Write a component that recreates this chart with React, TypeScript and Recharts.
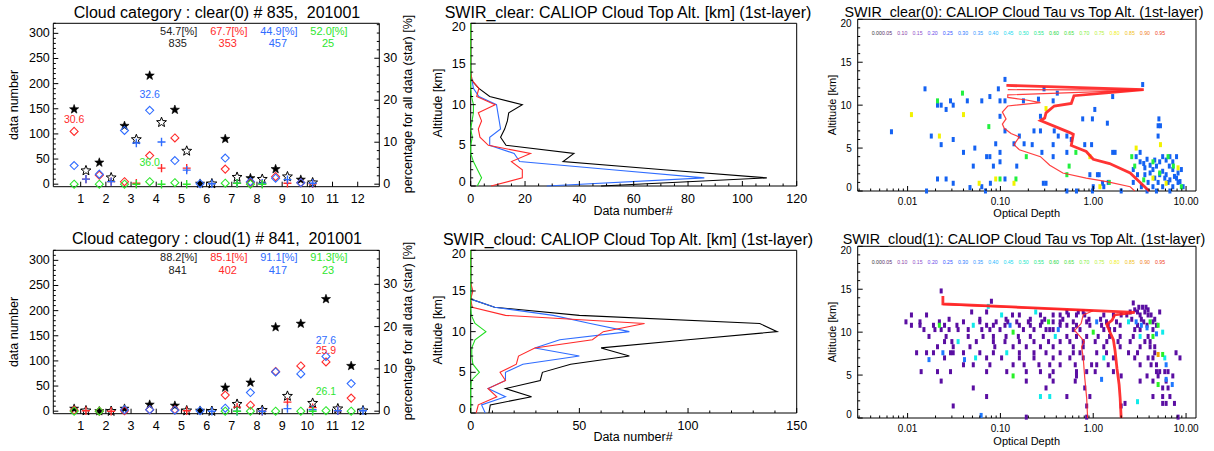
import React from "react";
import { ScatterChart, Scatter, XAxis, YAxis } from "recharts";

const FONT = '"Liberation Sans", Arial, Helvetica, sans-serif';

// ---------- left: counts per cloud category ----------
const categories = [1, 2, 3, 4, 5, 6, 7, 8, 9, 10, 11, 12];

const clearAllStar = [149, 43, 116, 216, 148, 1, 90, 12, 30, 9, null, null];
const clearSubStar = [27, 13, 89, 123, 66, 1, 14, 10, 15, 3, null, null];
const clearRedDiamond = [105, 18, 5, 57, 92, null, 30, 3, 15, 3, null, null];
const clearRedPlus = [10, 5, 2, 32, 32, null, 2, 1, 2, 1, null, null];
const clearBlueDiamond = [37, 20, 107, 147, 47, 1, 52, 5, 12, 3, null, null];
const clearBluePlus = [10, 5, 82, 84, 28, 1, 2, 2, 9, 2, null, null];
const clearGreenDiamond = [0, 0, 0, 5, 3, null, 2, 0, null, null, null, null];
const clearGreenPlus = [null, null, 0, 0, 0, null, 2, 0, null, null, null, null];
const clearHeader = [["54.7[%]", "835"], ["67.7[%]", "353"], ["44.9[%]", "457"], ["52.0[%]", "25"]];
const clearPeaks = [
  { color: "red", cat: 1, text: "30.6" },
  { color: "blue", cat: 4, text: "32.6" },
  { color: "green", cat: 4, text: "36.0" },
];

const cloudAllStar = [5, 0, 5, 13, 11, 1, 47, 57, 167, 174, 223, 90];
const cloudSubStar = [1, 0, null, null, 1, 0, 14, 2, 30, 16, 5, 1];
const cloudRedDiamond = [2, 0, 1, 3, 3, null, 32, 12, 79, 90, 98, 26];
const cloudRedPlus = [1, 0, null, null, 1, null, 8, 0, 18, 7, 1, null];
const cloudBlueDiamond = [null, null, 3, 3, 2, 1, 6, 37, 78, 74, 109, 55];
const cloudBluePlus = [null, null, null, null, null, 0, 0, 0, 5, 3, 1, 1];
const cloudGreenDiamond = [0, 0, null, null, null, null, 0, 0, 0, 0, 1, 0];
const cloudGreenPlus = [null, null, null, null, null, null, 0, null, null, 0, null, null];
const cloudHeader = [["88.2[%]", "841"], ["85.1[%]", "402"], ["91.1[%]", "417"], ["91.3[%]", "23"]];
const cloudPeaks = [
  { color: "blue", cat: 11, text: "27.6" },
  { color: "red", cat: 11, text: "25.9" },
  { color: "green", cat: 11, text: "26.1" },
];

// ---------- middle: cloud top altitude histograms ----------
const altitudes = [0, 1, 2, 3, 4, 5, 6, 7, 8, 9, 10, 11, 12, 13, 14, 15, 16, 17, 18, 19, 20];
const clearBlack = [48, 109, 71, 34, 38, 13, 11, 12.5, 13.5, 14, 19, 7, 3, 0.3, 0, 0, 0, 0, 0, 0, 0];
const clearBlue = [28, 86, 52, 18, 16, 7, 7, 11, 10.5, 10, 9.5, 3, 1, 0.5, 0, 0, 0, 0, 0, 0, 0];
const clearRed = [7.5, 19, 19, 15, 22, 6.5, 3.4, 2.8, 4, 2.8, 9, 2.2, 3, 0.5, 0, 0, 0, 0, 0, 0, 0];
const clearGreen = [2.4, 4, 2.5, 1, 0, 0, 0.6, 0, 0.5, 1, 1, 0.3, 0, 0, 0, 0, 0, 0, 0, 0, 0];
const cloudBlack = [8.4, 9, 28, 16, 32, 33, 46, 73, 60, 100, 141, 133, 50, 11, 0, 0, 0, 0, 0, 0, 0];
const cloudBlue = [6.7, 5, 16, 8, 16, 16, 24, 50, 29.5, 41, 73, 55, 38, 11, 0, 0, 0, 0, 0, 0, 0];
const cloudRed = [2.5, 3.5, 12, 8, 16, 13.5, 21, 22, 29.5, 56, 61, 80, 16, 0.7, 0, 1, 0, 0, 0, 0, 0];
const cloudGreen = [0, 0, 0, 0, 0.3, 4, 1, 0.5, 0.5, 2, 7, 2, 0.3, 0, 0, 0, 0, 0, 0, 0, 0];

// ---------- right: optical depth vs top altitude ----------
// [tau, altitude km]
const clearBlueCells: [number, number][] = [
  [0.112, 13.0], [0.0154, 11.9], [0.095, 11.9], [0.295, 11.9], [3.41, 12.4], [0.41, 11.4], [1.62, 11.0],
  [0.077, 11.0], [0.029, 10.5], [0.044, 10.5], [0.063, 10.5], [0.099, 10.5], [0.112, 10.5], [0.177, 10.5],
  [0.257, 10.7], [0.37, 10.5], [0.023, 10.0], [0.021, 10.0], [0.031, 10.0], [0.026, 9.5], [1.04, 9.5],
  [0.099, 8.7], [0.27, 8.7], [0.77, 8.4], [0.98, 8.4], [5.1, 8.4], [5.0, 7.6], [5.3, 7.6], [1.42, 7.9],
  [0.0067, 6.9], [0.018, 6.4], [0.031, 6.0], [0.112, 7.0], [0.16, 6.4], [0.23, 7.0], [0.27, 7.0], [0.38, 7.0],
  [0.42, 6.4], [0.52, 6.4], [0.58, 6.0], [5.0, 6.4], [0.023, 5.4], [0.053, 5.0], [0.089, 5.5], [0.14, 5.5],
  [0.18, 5.5], [0.22, 5.4], [0.37, 5.4], [0.81, 5.4], [0.96, 5.4], [0.04, 4.5], [0.071, 4.0], [0.077, 4.0],
  [0.099, 4.5], [0.28, 4.5], [0.37, 4.0], [0.52, 4.5], [1.62, 4.5], [1.72, 4.5], [3.2, 4.5], [0.051, 2.9],
  [0.084, 2.9], [0.099, 3.4], [0.15, 2.9], [0.021, 1.4], [0.026, 1.4], [0.031, 0.9], [0.047, 0.4],
  [0.063, 0.5], [0.069, 0.0], [0.078, 0.9], [0.112, 1.4], [0.29, 0.9], [0.31, 0.9], [0.92, 1.9], [1.11, 1.9],
  [1.16, 1.9], [1.26, 0.9], [1.0, 0.5], [0.66, 0.0], [0.52, 0.0], [2.0, 0.0], [0.98, 0.0], [0.016, 0.0],
  [1.45, 1.0], [1.3, 0.5],
  [2.9, 4.0], [3.2, 3.4], [3.5, 3.2], [3.8, 3.7], [4.1, 3.0], [4.4, 2.5], [4.8, 2.9], [5.2, 3.4], [5.6, 4.0],
  [6.1, 3.6], [6.7, 4.0], [7.2, 3.4], [7.9, 4.0], [6.6, 2.9], [7.2, 2.5], [8.2, 2.1], [8.9, 2.5], [2.7, 2.5],
  [3.0, 1.9], [3.6, 1.9], [4.1, 2.1], [4.6, 1.5], [5.2, 1.9], [5.9, 1.5], [6.7, 1.3], [7.5, 1.7], [8.6, 1.1],
  [2.7, 1.0], [3.3, 0.5], [3.9, 1.0], [4.4, 0.5], [5.0, 1.0], [5.6, 0.5], [6.4, 1.0], [7.2, 0.5], [8.2, 1.0],
  [9.3, 0.5], [3.8, 0.0], [4.8, 0.0], [6.7, 0.0], [3.6, 2.7], [4.6, 3.6], [5.6, 2.3], [6.1, 1.9], [7.9, 1.5],
];
const clearGreenCells: [number, number][] = [
  [0.039, 11.4], [0.021, 10.5], [0.075, 7.5], [0.19, 4.0], [0.65, 4.5], [2.6, 4.0], [0.55, 2.9], [0.099, 1.4],
  [0.147, 1.4], [0.52, 1.9], [1.49, 1.0], [2.8, 2.9], [3.5, 1.3], [4.4, 3.4], [5.2, 2.1], [6.4, 4.0],
  [8.9, 0.5], [7.3, 2.9],
];
const clearYellowCells: [number, number][] = [
  [0.31, 9.6], [0.011, 8.9], [0.04, 8.9], [0.022, 6.4], [2.9, 5.0], [5.3, 5.4], [0.92, 4.0], [0.059, 0.9],
  [0.089, 1.4], [0.14, 0.9], [1.18, 0.5], [4.4, 1.5], [6.1, 0.9], [8.2, 2.7],
];
const clearThick: [number, number][] = [
  [0.116, 12.3], [3.5, 11.8], [0.62, 11.1], [0.58, 10.2], [0.38, 9.9], [0.31, 9.1], [0.3, 8.5], [0.27, 8.2],
  [0.56, 6.8], [0.61, 6.6], [0.58, 5.3], [0.84, 4.6], [1.0, 3.7], [1.5, 3.2], [2.5, 2.1], [4.0, 0],
];
const clearThin: [number, number][] = [
  [0.12, 11.8], [3.4, 11.75], [0.12, 11.2], [0.12, 10.9], [0.19, 10.6], [0.27, 10.3], [0.12, 9.9],
  [0.105, 9.2], [0.115, 8.4], [0.105, 7.8], [0.11, 7.3], [0.13, 6.7], [0.16, 6.3], [0.14, 5.4], [0.16, 4.8],
  [0.27, 4.0], [0.34, 3.0], [0.47, 2.1], [0.84, 1.5], [1.4, 1.1], [2.5, 0.5], [2.8, 0],
];

// [altitude km, taus]
const cloudPurpleRows: [number, number[]][] = [
  [14.8, [0.023]],
  [13.6, [0.08]],
  [13.4, [2.7]],
  [12.9, [3.1, 3.4, 3.7]],
  [12.6, [2.8, 3.9]],
  [12.35, [0.049, 0.071, 0.52, 0.69, 0.78, 2.5, 3.0, 3.6, 5.2]],
  [12.0, [0.011, 0.016, 0.135, 0.16, 0.27, 0.37, 0.44, 0.54, 0.66, 0.81, 1.3, 1.65, 2.0, 2.3, 3.2, 3.9, 4.2]],
  [11.5, [0.028, 0.06, 0.115, 0.21, 0.3, 0.47, 0.9, 1.2, 2.6, 3.3, 4.6]],
  [11.2, [0.0096, 0.0136, 0.022, 0.04, 0.06, 0.09, 0.12, 0.15, 0.2, 0.28, 0.37, 0.44, 0.61, 0.85, 1.39, 1.78, 3.5, 4.4]],
  [10.8, [0.011, 0.0136, 0.019, 0.025, 0.034, 0.071, 0.084, 0.112, 0.16, 0.21, 0.27, 0.44, 0.52, 0.66, 0.92, 1.23, 1.45, 1.95, 3.0, 3.8, 4.8]],
  [10.3, [0.015, 0.0197, 0.023, 0.028, 0.035, 0.045, 0.063, 0.077, 0.099, 0.177, 0.23, 0.31, 0.34, 0.37, 0.61, 0.72, 1.3, 1.5, 1.7, 2.8, 3.2, 4.4]],
  [9.5, [0.017, 0.026, 0.045, 0.065, 0.084, 0.115, 0.156, 0.21, 0.29, 0.52, 0.66, 0.85, 1.13, 1.5, 1.95, 2.7, 3.9]],
  [8.9, [0.025, 0.03, 0.055, 0.084, 0.112, 0.16, 0.23, 0.33, 0.44, 0.56, 0.78, 1.05, 1.4, 1.85, 2.5, 3.6, 4.1]],
  [8.3, [0.021, 0.031, 0.047, 0.087, 0.137, 0.19, 0.27, 0.37, 0.61, 0.78, 1.3, 1.95, 3.2, 4.1, 4.6]],
  [7.6, [0.0125, 0.016, 0.019, 0.029, 0.031, 0.04, 0.06, 0.084, 0.16, 0.23, 0.31, 0.44, 0.61, 0.72, 1.09, 1.39, 2.4, 3.0, 4.6, 7.8]],
  [7.0, [0.025, 0.071, 0.103, 0.16, 0.23, 0.37, 0.56, 0.78, 1.65, 2.8, 3.9, 4.4, 8.6]],
  [6.2, [0.04, 0.051, 0.077, 0.137, 0.18, 0.26, 0.34, 0.44, 0.64, 0.96, 1.09, 1.45, 3.2, 4.2, 4.8]],
  [5.4, [0.014, 0.021, 0.029, 0.071, 0.117, 0.19, 0.27, 0.37, 0.66, 0.85, 1.05, 1.65, 4.8, 5.2, 5.9, 6.4]],
  [4.9, [0.34, 0.66, 2.0, 3.8, 5.0, 7.2]],
  [4.3, [0.023, 0.19, 0.37, 0.64, 3.2, 4.4, 6.1]],
  [3.5, [0.051, 0.31, 0.81, 5.6, 6.4]],
  [2.5, [0.071, 0.52, 0.92, 4.4, 5.6, 6.7]],
  [1.7, [2.2, 5.6, 6.1, 7.5]],
  [1.4, [0.031, 0.85, 2.0]],
  [0.1, [0.19, 0.85, 8.2]],
];
const cloudCyanCells: [number, number][] = [
  [0.074, 13.0], [0.24, 12.35], [0.103, 12.0], [2.4, 11.2], [0.051, 10.8], [5.6, 10.0], [0.39, 9.5], [3.2, 9.5],
  [0.035, 8.9], [0.117, 7.6], [0.054, 7.0], [1.3, 7.0], [5.9, 7.0], [0.27, 2.5], [0.34, 2.5], [3.0, 1.9],
];
const cloudBlueCells: [number, number][] = [
  [1.09, 11.2], [2.9, 11.2], [0.127, 10.8], [3.3, 10.8], [0.42, 10.3], [3.8, 10.5], [4.8, 9.8], [0.024, 7.6],
  [0.017, 6.8], [0.041, 6.8], [6.1, 6.2], [1.23, 4.5], [6.1, 4.5], [7.1, 3.9], [0.062, 0.3],
];
const cloudGreenCells: [number, number][] = [
  [0.33, 11.2], [4.1, 11.2], [0.022, 10.8], [5.0, 10.8], [0.137, 10.0], [1.0, 10.0], [4.4, 9.5], [5.6, 7.4],
  [0.137, 4.9], [5.0, 3.9],
];
const cloudOrangeCells: [number, number][] = [[5.0, 7.4]];
const cloudThick: [number, number][] = [
  [0.024, 14.2], [0.024, 13.3], [2.8, 12.3], [1.7, 12.0], [1.6, 11.4], [1.4, 10.9], [1.5, 10.1], [1.65, 9.1],
  [1.72, 7.8], [1.8, 5.8], [1.9, 3.9], [1.95, 2.3], [2.0, 0],
];
const cloudThin: [number, number][] = [
  [0.024, 13.2], [1.0, 12.5], [0.78, 12.0], [0.74, 11.0], [0.63, 10.2], [0.72, 9.5], [0.8, 8.9], [0.75, 8.3],
  [0.78, 7.0], [0.81, 4.7], [0.85, 2.3], [0.87, 0],
];

const colorbarLevels = ["0.00", "0.05", "0.10", "0.15", "0.20", "0.25", "0.30", "0.35", "0.40", "0.45",
  "0.50", "0.55", "0.60", "0.65", "0.70", "0.75", "0.80", "0.85", "0.90", "0.95"];
const colorbarColors = ["#3a3a3a", "#5a3070", "#8a3fa8", "#9050c8", "#6a4ae8", "#3858ff", "#2a78ff", "#3a98ff",
  "#28b8ff", "#20d8f0", "#20e8c8", "#20e888", "#20d840", "#40e040", "#80f040", "#b8f040", "#f0f020",
  "#f0c020", "#f08020", "#f04020"];

// ---------- helpers ----------
const RED = "#ff2a2a";
const BLUE = "#2f6cff";
const GREEN = "#2ee62e";
const SERIES_COLOR: Record<string, string> = { red: RED, blue: BLUE, green: GREEN };
const LABEL_OFFSET: Record<string, number> = { red: 12.0, blue: 16.3, green: 19.8 };
const LEFT_OFF = -0.26;
const RIGHT_OFF = 0.21;

const range = (a: number, b: number, s: number) =>
  Array.from({ length: Math.floor((b - a) / s + 1e-9) + 1 }, (_, i) => +(a + i * s).toFixed(6));

type Side = "bottom" | "top" | "left" | "right";
// axes are 1px thick, the tick props land on the plot edge.
// edges: labels sitting exactly on the box corners get nudged inward (IDL style)
function tickRenderer(side: Side, majors: number[], fmt: ((v: number) => string) | null, fontSize = 12.5, gap = 12,
  edges?: [number, number]) {
  const isMajor = (v: number) => majors.some((m) => Math.abs(m - v) < 1e-6 * Math.max(1, Math.abs(m)));
  return (props: any) => {
    const x = Number(props.x);
    const y = Number(props.y);
    const v = Number(props.payload?.value);
    const major = isMajor(v);
    const len = major ? 5 : 2.5;
    const label = major && fmt ? fmt(v) : null;
    const ts = { fontSize, fontFamily: FONT, fill: "#000" };
    let nudge = 0;
    if (edges && v === edges[0]) nudge = -4;
    if (edges && v === edges[1]) nudge = 4;
    if (side === "bottom")
      return (
        <g>
          <line x1={x} y1={y} x2={x} y2={y - len} stroke="#000" />
          {label && <text x={x} y={y + gap} textAnchor="middle" dominantBaseline="central" {...ts}>{label}</text>}
        </g>
      );
    if (side === "top") return <line x1={x} y1={y} x2={x} y2={y + len} stroke="#000" />;
    if (side === "left")
      return (
        <g>
          <line x1={x} y1={y} x2={x + len} y2={y} stroke="#000" />
          {label && <text x={x - gap} y={y + nudge} textAnchor="end" dominantBaseline="central" {...ts}>{label}</text>}
        </g>
      );
    return (
      <g>
        <line x1={x} y1={y} x2={x - len} y2={y} stroke="#000" />
        {label && <text x={x + gap} y={y + nudge} textAnchor="start" dominantBaseline="central" {...ts}>{label}</text>}
      </g>
    );
  };
}

const axisCommon = {
  tickSize: 0,
  tickMargin: 0,
  tickLine: false,
  interval: 0 as const,
  axisLine: { stroke: "#000" },
};

function Label(p: { x: number; y: number; size: number; color?: string; rotate?: number; children: React.ReactNode }) {
  return (
    <div
      style={{
        position: "absolute",
        left: p.x,
        top: p.y,
        transform: `translate(-50%, -50%)${p.rotate ? ` rotate(${p.rotate}deg)` : ""}`,
        whiteSpace: "pre",
        fontFamily: FONT,
        fontSize: p.size,
        color: p.color ?? "#000",
        lineHeight: 1,
      }}
    >
      {p.children}
    </div>
  );
}

const starPath = (cx: number, cy: number, R: number, r: number) => {
  let d = "";
  for (let k = 0; k < 10; k++) {
    const a = ((-90 + k * 36) * Math.PI) / 180;
    const rad = k % 2 ? r : R;
    d += `${k ? "L" : "M"}${(cx + rad * Math.cos(a)).toFixed(2)},${(cy + rad * Math.sin(a)).toFixed(2)}`;
  }
  return d + "Z";
};
const FilledStar = (p: any) => <path d={starPath(p.cx, p.cy, 4.8, 2.0)} fill="#000" stroke="#000" strokeWidth={0.6} />;
const HollowStar = (p: any) => <path d={starPath(p.cx, p.cy, 5.2, 2.2)} fill="none" stroke="#000" strokeWidth={1} />;
const diamondShape = (color: string) => (p: any) =>
  <path d={`M${p.cx},${p.cy - 4}L${p.cx + 4},${p.cy}L${p.cx},${p.cy + 4}L${p.cx - 4},${p.cy}Z`} fill="none" stroke={color} strokeWidth={1.1} />;
const plusShape = (color: string) => (p: any) =>
  <path d={`M${p.cx - 4},${p.cy}H${p.cx + 4}M${p.cx},${p.cy - 4.2}V${p.cy + 4.2}`} stroke={color} strokeWidth={1.4} fill="none" />;
const NoDot = () => <g />;

const catPoints = (vals: (number | null)[], off: number) =>
  vals.flatMap((v, i) => (v == null ? [] : [{ x: categories[i] + off, y: v }]));

// ---------- left panel ----------
type CatData = {
  top: number;
  title: string;
  total: number;
  all: (number | null)[];
  sub: (number | null)[];
  rd: (number | null)[];
  rp: (number | null)[];
  bd: (number | null)[];
  bp: (number | null)[];
  gd: (number | null)[];
  gp: (number | null)[];
  header: string[][];
  peaks: { color: string; cat: number; text: string }[];
};

function CategoryPanel(p: CatData) {
  const yMin = -5;
  const yMax = 320;
  const pctMin = (yMin / p.total) * 100;
  const pctMax = (yMax / p.total) * 100;
  const diamonds: Record<string, (number | null)[]> = { red: p.rd, blue: p.bd, green: p.gd };
  const peakPts = p.peaks.map((pk) => ({ x: pk.cat + LEFT_OFF, y: diamonds[pk.color][pk.cat - 1] ?? 0, text: pk.text, color: pk.color }));
  const xDom: [number, number] = [-0.087, 12.857];
  return (
    <div style={{ position: "absolute", left: 0, top: p.top, width: 420, height: 225 }}>
      <ScatterChart width={420} height={225} margin={{ top: 22.3, right: 39.7, bottom: 37.3, left: 52.3 }}>
        <XAxis xAxisId="b" type="number" dataKey="x" domain={xDom} ticks={categories} height={1} {...axisCommon}
          tick={tickRenderer("bottom", categories, (v) => String(v), 12.5, 12.5)} />
        <XAxis xAxisId="t" orientation="top" type="number" dataKey="x" domain={xDom} ticks={categories} height={1}
          {...axisCommon} tick={tickRenderer("top", categories, null)} />
        <YAxis yAxisId="l" type="number" dataKey="y" domain={[yMin, yMax]} ticks={range(0, 320, 10)} width={1}
          {...axisCommon} tick={tickRenderer("left", range(0, 300, 50), (v) => String(v), 12.5, 3.5)} />
        <YAxis yAxisId="r" orientation="right" type="number" domain={[pctMin, pctMax]} allowDataOverflow
          ticks={range(0, 38, 2).filter((v) => v <= pctMax)} width={1} {...axisCommon}
          tick={tickRenderer("right", [0, 10, 20, 30], (v) => String(v), 12.5, 4)} />
        <Scatter xAxisId="b" yAxisId="l" data={catPoints(p.all, LEFT_OFF)} shape={FilledStar} isAnimationActive={false} />
        <Scatter xAxisId="b" yAxisId="l" data={catPoints(p.sub, RIGHT_OFF)} shape={HollowStar} isAnimationActive={false} />
        <Scatter xAxisId="b" yAxisId="l" data={catPoints(p.rd, LEFT_OFF)} shape={diamondShape(RED)} isAnimationActive={false} />
        <Scatter xAxisId="b" yAxisId="l" data={catPoints(p.rp, RIGHT_OFF)} shape={plusShape(RED)} isAnimationActive={false} />
        <Scatter xAxisId="b" yAxisId="l" data={catPoints(p.bd, LEFT_OFF)} shape={diamondShape(BLUE)} isAnimationActive={false} />
        <Scatter xAxisId="b" yAxisId="l" data={catPoints(p.bp, RIGHT_OFF)} shape={plusShape(BLUE)} isAnimationActive={false} />
        <Scatter xAxisId="b" yAxisId="l" data={catPoints(p.gd, LEFT_OFF)} shape={diamondShape(GREEN)} isAnimationActive={false} />
        <Scatter xAxisId="b" yAxisId="l" data={catPoints(p.gp, RIGHT_OFF)} shape={plusShape(GREEN)} isAnimationActive={false} />
        <Scatter
          xAxisId="b"
          yAxisId="l"
          data={peakPts}
          isAnimationActive={false}
          shape={(s: any) => (
            <text x={s.cx} y={s.cy - LABEL_OFFSET[s.payload.color]} textAnchor="middle" dominantBaseline="central"
              fontSize={10.5} fontFamily={FONT} fill={SERIES_COLOR[s.payload.color]}>
              {s.payload.text}
            </text>
          )}
        />
      </ScatterChart>
      <Label x={217} y={12.7} size={16}>{p.title}</Label>
      <Label x={13.5} y={105} size={12.5} rotate={-90}>data number</Label>
      <Label x={408} y={104} size={12.5} rotate={-90}>percentage for all data (star) [%]</Label>
      {p.header.map((h, i) => {
        const color = ["#222", RED, BLUE, GREEN][i];
        const cx = 178.7 + i * 50.1;
        return (
          <React.Fragment key={i}>
            <Label x={cx} y={30.7} size={11} color={color}>{h[0]}</Label>
            <Label x={cx - 1} y={43.3} size={11} color={color}>{h[1]}</Label>
          </React.Fragment>
        );
      })}
    </div>
  );
}

// ---------- middle panel ----------
const toLine = (vals: number[]) => vals.map((v, i) => ({ x: v, y: altitudes[i] }));

function AltitudePanel(p: { top: number; title: string; xMax: number; xMajor: number; xMinor: number;
  black: number[]; blue: number[]; red: number[]; green: number[] }) {
  const xTicks = range(0, p.xMax, p.xMinor);
  const xMajors = range(0, p.xMax, p.xMajor);
  const line = (vals: number[], color: string) => (
    <Scatter xAxisId="b" yAxisId="l" data={toLine(vals)} shape={NoDot} line={{ stroke: color, strokeWidth: 1.1 }}
      lineJointType="linear" fill={color} isAnimationActive={false} />
  );
  return (
    <div style={{ position: "absolute", left: 420, top: p.top, width: 420, height: 225 }}>
      <ScatterChart width={420} height={225} margin={{ top: 22.3, right: 42.3, bottom: 38, left: 49.7 }}>
        <XAxis xAxisId="b" type="number" dataKey="x" domain={[0, p.xMax]} ticks={xTicks} height={1} {...axisCommon}
          tick={tickRenderer("bottom", xMajors, (v) => String(v), 12.5, 12.5)} />
        <XAxis xAxisId="t" orientation="top" type="number" dataKey="x" domain={[0, p.xMax]} ticks={xTicks} height={1}
          {...axisCommon} tick={tickRenderer("top", xMajors, null)} />
        <YAxis yAxisId="l" type="number" dataKey="y" domain={[0, 20]} ticks={range(0, 20, 1)} width={1} {...axisCommon}
          tick={tickRenderer("left", [0, 5, 10, 15, 20], (v) => String(v), 12.5, 5, [0, 20])} />
        <YAxis yAxisId="r" orientation="right" type="number" dataKey="y" domain={[0, 20]} ticks={range(0, 20, 1)} width={1}
          {...axisCommon} tick={tickRenderer("right", [0, 5, 10, 15, 20], null)} />
        {line(p.black, "#000000")}
        {line(p.blue, BLUE)}
        {line(p.red, RED)}
        {line(p.green, "#22dd22")}
      </ScatterChart>
      <Label x={208} y={13} size={16}>{p.title}</Label>
      <Label x={18} y={103} size={12.5} rotate={-90}>Altitude [km]</Label>
      <Label x={213} y={210.7} size={12.5}>Data number#</Label>
    </div>
  );
}

// ---------- right panel ----------
const cellPts = (cells: [number, number][]) => cells.map(([tau, alt]) => ({ x: tau, y: alt }));
const rowPts = (rows: [number, number[]][]) => rows.flatMap(([alt, taus]) => taus.map((tau) => ({ x: tau, y: alt })));
const cellShape = (color: string) => (p: any) => <rect x={p.cx - 1.5} y={p.cy - 2.5} width={3} height={5} fill={color} />;

const TAU_DOMAIN: [number, number] = [0.0029, 12.8];
const tauMajors = [0.01, 0.1, 1, 10];
const tauTicks = [0.001, 0.01, 0.1, 1, 10]
  .flatMap((d) => [1, 2, 3, 4, 5, 6, 7, 8, 9].map((k) => +(k * d).toPrecision(2)))
  .filter((v) => v >= TAU_DOMAIN[0] && v <= TAU_DOMAIN[1]);

function TauPanel(p: { top: number; title: string; groups: { pts: { x: number; y: number }[]; color: string }[];
  thick: [number, number][]; thin: [number, number][] }) {
  return (
    <div style={{ position: "absolute", left: 820, top: p.top, width: 394, height: 225 }}>
      <ScatterChart width={394} height={225} margin={{ top: 18.3, right: 17, bottom: 33, left: 36.7 }}>
        <XAxis xAxisId="b" type="number" scale="log" dataKey="x" domain={TAU_DOMAIN} ticks={tauTicks} height={1}
          {...axisCommon} tick={tickRenderer("bottom", tauMajors, (v) => v.toFixed(2), 10, 10.5)} />
        <XAxis xAxisId="t" orientation="top" type="number" scale="log" dataKey="x" domain={TAU_DOMAIN} ticks={tauTicks}
          height={1} {...axisCommon} tick={tickRenderer("top", tauMajors, null)} />
        <YAxis yAxisId="l" type="number" dataKey="y" domain={[0, 20]} ticks={range(0, 20, 1)} width={1} {...axisCommon}
          tick={tickRenderer("left", [0, 5, 10, 15, 20], (v) => String(v), 10, 6, [0, 20])} />
        <YAxis yAxisId="r" orientation="right" type="number" dataKey="y" domain={[0, 20]} ticks={range(0, 20, 1)}
          width={1} {...axisCommon} tick={tickRenderer("right", [0, 5, 10, 15, 20], null)} />
        {p.groups.map((g, i) => (
          <Scatter key={i} xAxisId="b" yAxisId="l" data={g.pts} shape={cellShape(g.color)} isAnimationActive={false} />
        ))}
        <Scatter xAxisId="b" yAxisId="l" data={cellPts(p.thin)} shape={NoDot} fill="#ff2a2a"
          line={{ stroke: "#ff2a2a", strokeWidth: 1.2, strokeOpacity: 0.9 }} lineJointType="linear" isAnimationActive={false} />
        <Scatter xAxisId="b" yAxisId="l" data={cellPts(p.thick)} shape={NoDot} fill="#ff1e1e"
          line={{ stroke: "#ff1e1e", strokeWidth: 2.8, strokeOpacity: 0.9 }} lineJointType="linear" isAnimationActive={false} />
      </ScatterChart>
      <Label x={204} y={12} size={14.3}>{p.title}</Label>
      <Label x={11.7} y={105} size={11} rotate={-90}>Altitude [km]</Label>
      <Label x={206.7} y={213.3} size={11}>Optical Depth</Label>
      {colorbarLevels.map((lv, i) => (
        <div key={lv} style={{ position: "absolute", left: i === 0 ? 51.7 : i === 1 ? 62 : 77.3 + (i - 2) * 15.16,
          top: 34.3 + (p.top > 0 ? 1.3 : 0), transform: "translateY(-50%)", fontFamily: FONT, fontSize: 5.2,
          color: colorbarColors[i], lineHeight: 1, whiteSpace: "nowrap" }}>
          {lv}
        </div>
      ))}
    </div>
  );
}

export default function App() {
  return (
    <div style={{ position: "absolute", left: 0, top: 0, width: 1214, height: 451, background: "#fff", overflow: "hidden" }}>
      <CategoryPanel top={0} title="Cloud category : clear(0) # 835,  201001" total={835}
        all={clearAllStar} sub={clearSubStar} rd={clearRedDiamond} rp={clearRedPlus} bd={clearBlueDiamond}
        bp={clearBluePlus} gd={clearGreenDiamond} gp={clearGreenPlus} header={clearHeader} peaks={clearPeaks} />
      <CategoryPanel top={226.7} title="Cloud category : cloud(1) # 841,  201001" total={841}
        all={cloudAllStar} sub={cloudSubStar} rd={cloudRedDiamond} rp={cloudRedPlus} bd={cloudBlueDiamond}
        bp={cloudBluePlus} gd={cloudGreenDiamond} gp={cloudGreenPlus} header={cloudHeader} peaks={cloudPeaks} />
      <AltitudePanel top={0} title="SWIR_clear: CALIOP Cloud Top Alt. [km] (1st-layer)" xMax={120} xMajor={20} xMinor={5}
        black={clearBlack} blue={clearBlue} red={clearRed} green={clearGreen} />
      <AltitudePanel top={226.7} title="SWIR_cloud: CALIOP Cloud Top Alt. [km] (1st-layer)" xMax={150} xMajor={50} xMinor={10}
        black={cloudBlack} blue={cloudBlue} red={cloudRed} green={cloudGreen} />
      <TauPanel top={0} title="SWIR_clear(0): CALIOP Cloud Tau vs Top Alt. (1st-layer)"
        groups={[
          { pts: cellPts(clearBlueCells), color: "#1462f2" },
          { pts: cellPts(clearGreenCells), color: "#22f040" },
          { pts: cellPts(clearYellowCells), color: "#f2f200" },
        ]}
        thick={clearThick} thin={clearThin} />
      <TauPanel top={227.4} title="SWIR_cloud(1): CALIOP Cloud Tau vs Top Alt. (1st-layer)"
        groups={[
          { pts: rowPts(cloudPurpleRows), color: "#5a0ea2" },
          { pts: cellPts(cloudCyanCells), color: "#10eaea" },
          { pts: cellPts(cloudBlueCells), color: "#1e78ff" },
          { pts: cellPts(cloudGreenCells), color: "#28f028" },
          { pts: cellPts(cloudOrangeCells), color: "#f0a000" },
        ]}
        thick={cloudThick} thin={cloudThin} />
    </div>
  );
}
